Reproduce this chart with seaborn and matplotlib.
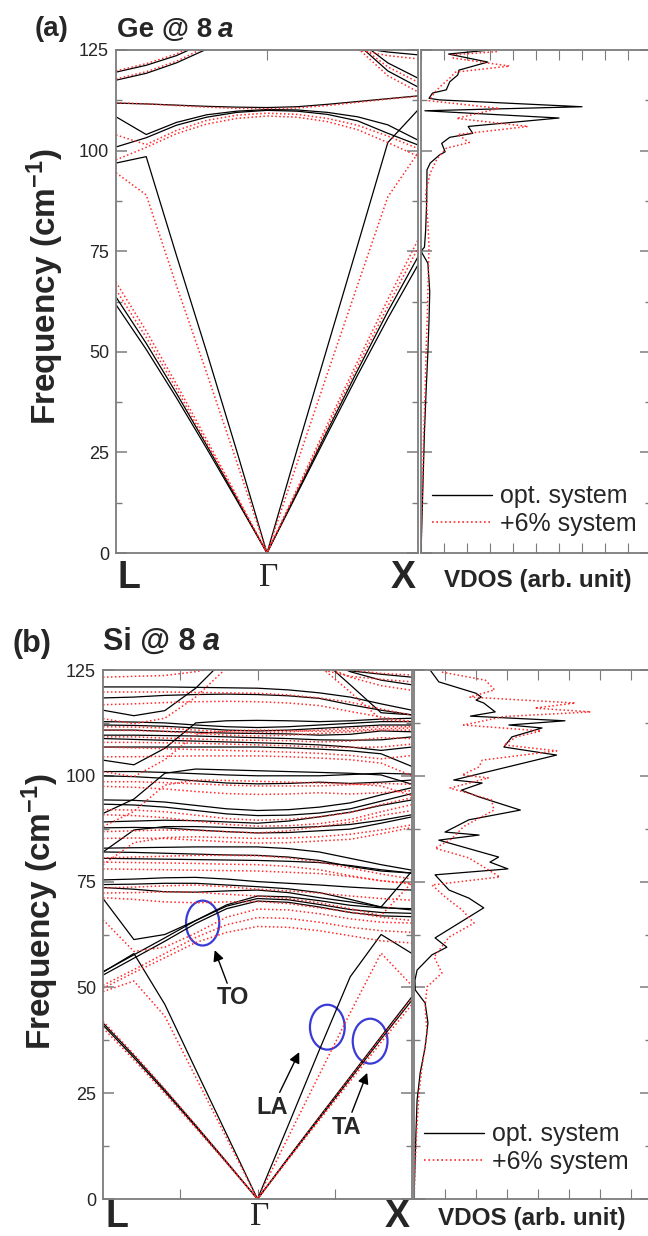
import matplotlib
matplotlib.use("Agg")
import numpy as np
import pandas as pd
import matplotlib.pyplot as plt
import seaborn as sns
from matplotlib.patches import Ellipse
from matplotlib.lines import Line2D
from matplotlib.ticker import MultipleLocator

# ---------------- data ----------------
K = [-1.0, -0.8, -0.6, -0.4, -0.2, 0.0, 0.2, 0.4, 0.6, 0.8, 1.0]   # L ... Gamma ... X
HIGH_LABELS = ["L", "\u0393", "X"]

# panel (a) Ge @ 8a, opt. system
a_TA1 = [61.7, 50.6, 38.6, 26.0, 13.1, 0.0, 14.8, 29.6, 44.2, 58.3, 71.6]
a_TA2 = [63.6, 52.1, 39.7, 26.8, 13.5, 0.0, 15.2, 30.4, 45.4, 60.0, 73.6]
a_LA = [96.9, 98.5, 74.0, 50.0, 25.3, 0.0, 25.8, 51.2, 76.5, 102.0, 110.1]
a_O1 = [100.9, 103.2, 106.3, 108.3, 109.5, 110.0, 109.8, 109.0, 107.4, 104.3, 101.4]
a_O2 = [108.4, 104.0, 107.0, 108.9, 109.8, 110.2, 110.1, 109.5, 108.4, 106.4, 102.6]
a_F1 = [111.8, 111.6, 111.3, 111.0, 110.8, 110.7, 110.9, 111.5, 112.2, 112.9, 113.6]
a_U1 = [119.5, 121.2, 123.6, 127.0, 131.0, 135.0, 135.0, 135.0, 135.0, 135.0, 135.0]
a_U2 = [117.5, 119.2, 121.8, 125.2, 129.0, 135.0, 135.0, 135.0, 135.0, 135.0, 135.0]
a_U3 = [135.0, 135.0, 135.0, 135.0, 135.0, 135.0, 135.0, 131.0, 125.6, 124.5, 123.8]
a_U4 = [135.0, 135.0, 135.0, 135.0, 135.0, 135.0, 135.0, 132.0, 127.5, 121.8, 118.0]
a_U5 = [135.0, 135.0, 135.0, 135.0, 135.0, 135.0, 135.0, 133.0, 126.5, 119.8, 115.8]

# panel (a) Ge @ 8a, +6% system
ar_TA1 = [65.4, 53.6, 40.8, 27.4, 13.8, 0.0, 15.6, 31.2, 46.4, 61.3, 75.8]
ar_TA2 = [67.3, 55.2, 42.0, 28.2, 14.2, 0.0, 16.0, 32.0, 47.6, 63.0, 77.8]
ar_LA = [94.5, 89.0, 66.5, 44.8, 22.6, 0.0, 22.4, 44.6, 66.6, 88.5, 99.4]
ar_O1 = [97.7, 100.8, 104.2, 106.6, 108.0, 108.6, 108.3, 107.2, 105.2, 102.0, 98.6]
ar_O2 = [103.9, 101.5, 105.0, 107.5, 108.8, 109.3, 109.0, 108.0, 106.3, 103.6, 100.5]
ar_F1 = [111.9, 111.6, 111.2, 110.8, 110.5, 110.4, 110.6, 111.2, 112.0, 112.8, 113.5]
ar_U1 = [119.8, 121.6, 124.0, 127.5, 131.0, 135.0, 135.0, 135.0, 135.0, 135.0, 135.0]
ar_U2 = [117.8, 119.6, 122.2, 125.8, 129.5, 135.0, 135.0, 135.0, 135.0, 135.0, 135.0]
ar_U3 = [135.0, 135.0, 135.0, 135.0, 135.0, 135.0, 135.0, 130.0, 125.0, 123.6, 122.8]
ar_U4 = [135.0, 135.0, 135.0, 135.0, 135.0, 135.0, 135.0, 131.0, 126.5, 120.8, 117.0]
ar_U5 = [135.0, 135.0, 135.0, 135.0, 135.0, 135.0, 135.0, 132.0, 125.5, 118.6, 114.6]

# panel (b) Si @ 8a, opt. system
b_TA1 = [41.1, 33.4, 25.4, 17.1, 8.6, 0.0, 9.6, 19.0, 28.4, 37.8, 47.0]
b_TA2 = [41.6, 33.9, 25.8, 17.4, 8.8, 0.0, 9.8, 19.4, 28.9, 38.4, 47.8]
b_LA = [53.6, 58.0, 46.0, 30.6, 15.3, 0.0, 17.5, 35.2, 52.5, 62.5, 58.0]
b_TO1 = [71.0, 61.3, 62.5, 65.8, 69.5, 71.6, 71.4, 70.5, 69.4, 68.8, 68.6]
b_TO2 = [53.7, 57.7, 61.7, 65.8, 69.2, 71.0, 70.7, 69.6, 68.4, 67.7, 67.5]
b_TO3 = [52.9, 56.9, 60.9, 65.1, 68.6, 70.4, 70.1, 69.0, 67.7, 66.9, 66.7]
b_N1 = [75.4, 75.6, 75.9, 76.0, 75.6, 75.0, 74.6, 74.2, 73.7, 73.3, 73.0]
b_N2 = [74.3, 74.4, 74.6, 74.6, 74.2, 73.8, 73.3, 72.4, 70.8, 69.0, 77.5]
b_N3 = [73.6, 73.2, 72.6, 72.5, 72.8, 73.0, 72.4, 71.2, 70.2, 69.0, 68.3]
b_M1 = [82.9, 83.0, 83.1, 83.2, 83.2, 83.2, 82.8, 82.0, 80.5, 79.0, 77.7]
b_M2 = [82.0, 81.9, 81.7, 81.5, 81.3, 81.2, 80.8, 80.0, 78.6, 77.5, 77.0]
b_M3 = [80.5, 80.4, 80.3, 80.2, 80.1, 80.0, 79.8, 79.5, 78.8, 77.8, 77.0]
b_L1 = [82.0, 87.2, 88.0, 88.0, 87.8, 87.6, 87.7, 88.0, 88.5, 89.5, 90.8]
b_K1 = [89.1, 89.3, 89.5, 89.4, 89.1, 88.8, 89.3, 90.3, 91.4, 93.0, 94.3]
b_K2 = [87.7, 87.8, 87.7, 87.2, 86.8, 86.5, 86.6, 87.0, 87.4, 88.8, 90.3]
b_J1 = [94.3, 94.2, 93.8, 93.0, 92.2, 91.8, 92.0, 92.6, 93.6, 95.5, 97.2]
b_J2 = [93.3, 93.1, 92.6, 91.8, 91.0, 90.6, 90.7, 91.2, 92.2, 94.0, 95.8]
b_I = [91.1, 94.5, 100.6, 101.6, 101.4, 101.2, 101.0, 100.8, 100.6, 100.2, 98.0]
b_H1 = [101.0, 101.0, 100.8, 100.5, 100.2, 100.0, 100.0, 100.0, 100.3, 100.6, 100.4]
b_H2 = [100.0, 99.8, 99.4, 98.8, 98.3, 98.1, 98.2, 98.5, 98.2, 98.5, 99.0]
b_G = [103.7, 102.6, 106.5, 112.5, 113.0, 113.1, 113.0, 112.8, 113.0, 113.4, 113.6]
b_E = [106.8, 106.8, 106.8, 106.8, 106.8, 106.8, 106.6, 106.3, 105.9, 105.2, 102.2]
b_D1 = [112.8, 112.7, 112.5, 112.0, 111.6, 111.4, 111.6, 112.0, 112.4, 112.8, 112.8]
b_D2 = [112.0, 111.9, 111.7, 111.3, 110.8, 110.6, 110.8, 111.2, 111.6, 112.0, 112.0]
b_D3 = [110.8, 110.8, 110.5, 110.3, 110.1, 110.0, 109.9, 109.6, 109.8, 110.6, 110.4]
b_D4 = [109.6, 109.6, 109.5, 109.4, 109.2, 109.0, 108.8, 108.5, 108.4, 108.5, 109.2]
b_D5 = [108.8, 108.6, 108.4, 108.2, 108.0, 107.8, 107.6, 107.3, 106.8, 106.0, 106.8]
b_C = [118.4, 118.6, 119.0, 119.2, 119.3, 119.2, 118.9, 118.3, 116.8, 115.5, 114.4]
b_B = [121.0, 121.0, 121.0, 120.9, 120.8, 120.7, 120.3, 119.6, 118.6, 117.0, 115.5]
b_A = [115.5, 114.2, 115.4, 120.7, 128.0, 132.0, 132.0, 128.0, 121.5, 114.9, 114.4]
b_Q1 = [135.0, 135.0, 135.0, 135.0, 135.0, 133.0, 130.0, 126.5, 124.8, 124.0, 123.3]
b_Q2 = [135.0, 135.0, 135.0, 135.0, 135.0, 135.0, 132.0, 128.0, 124.6, 122.6, 121.5]

# panel (b) Si @ 8a, +6% system
br_TA1 = [40.4, 32.9, 25.0, 16.8, 8.5, 0.0, 9.4, 18.6, 27.8, 37.0, 46.0]
br_TA2 = [42.0, 34.2, 26.0, 17.5, 8.8, 0.0, 9.7, 19.2, 28.7, 38.1, 47.4]
br_LA = [49.0, 51.5, 43.2, 28.8, 14.4, 0.0, 14.7, 29.4, 44.0, 58.1, 50.4]
br_TO1 = [66.0, 58.5, 59.5, 62.8, 66.6, 68.5, 68.3, 67.4, 66.2, 65.4, 65.2]
br_TO2 = [50.5, 54.2, 58.0, 61.8, 64.8, 66.5, 66.3, 65.4, 64.2, 63.4, 63.0]
br_TO3 = [49.8, 53.5, 57.0, 60.6, 63.0, 64.4, 64.2, 63.4, 62.2, 61.0, 60.5]
br_N1 = [73.5, 73.7, 74.0, 74.2, 73.8, 73.2, 72.8, 72.3, 71.6, 71.0, 70.6]
br_N2 = [72.3, 72.4, 72.6, 72.5, 72.0, 71.6, 71.0, 70.0, 68.6, 67.0, 74.8]
br_N3 = [71.2, 70.8, 70.2, 70.0, 70.2, 70.3, 69.8, 68.8, 67.8, 66.6, 65.8]
br_M1 = [80.6, 80.8, 81.0, 81.2, 81.2, 81.1, 80.6, 79.6, 78.2, 76.8, 75.6]
br_M2 = [79.6, 79.5, 79.4, 79.3, 79.1, 79.0, 78.6, 77.8, 76.4, 75.2, 74.6]
br_M3 = [78.0, 77.9, 77.8, 77.7, 77.6, 77.5, 77.2, 76.9, 76.2, 75.2, 74.4]
br_L1 = [79.0, 84.2, 85.4, 85.6, 85.4, 85.2, 85.3, 85.6, 86.2, 87.2, 88.4]
br_K1 = [86.8, 87.0, 87.2, 87.1, 86.8, 86.5, 87.0, 88.0, 89.0, 90.6, 91.8]
br_K2 = [85.2, 85.3, 85.2, 84.8, 84.4, 84.1, 84.2, 84.6, 85.0, 86.3, 87.8]
br_J1 = [92.0, 91.9, 91.5, 90.7, 89.9, 89.5, 89.7, 90.3, 91.3, 93.2, 94.8]
br_J2 = [90.8, 90.6, 90.1, 89.3, 88.5, 88.1, 88.2, 88.7, 89.7, 91.5, 93.2]
br_I = [88.0, 91.6, 97.8, 99.0, 98.9, 98.7, 98.5, 98.3, 98.1, 97.6, 95.3]
br_H1 = [98.6, 98.6, 98.4, 98.1, 97.8, 97.6, 97.6, 97.6, 97.9, 98.2, 98.0]
br_H2 = [97.5, 97.3, 96.9, 96.3, 95.8, 95.6, 95.7, 96.0, 95.7, 96.0, 96.5]
br_G = [101.0, 99.8, 103.8, 109.8, 110.6, 110.8, 110.7, 110.5, 110.7, 111.1, 111.3]
br_E = [104.5, 104.5, 104.6, 104.7, 104.7, 104.7, 104.5, 104.2, 103.8, 103.0, 100.0]
br_D1 = [111.6, 111.5, 111.3, 110.8, 110.4, 110.2, 110.4, 110.8, 111.2, 111.6, 111.6]
br_D2 = [110.8, 110.7, 110.5, 110.1, 109.6, 109.4, 109.6, 110.0, 110.4, 110.8, 110.8]
br_D3 = [109.2, 109.2, 108.9, 108.7, 108.5, 108.4, 108.3, 108.0, 108.2, 109.0, 108.8]
br_D4 = [107.9, 107.9, 107.8, 107.7, 107.5, 107.3, 107.1, 106.8, 106.7, 106.8, 107.5]
br_D5 = [106.8, 106.6, 106.4, 106.2, 106.0, 105.8, 105.6, 105.3, 104.8, 104.0, 104.8]
br_C = [116.8, 117.0, 117.3, 117.5, 117.6, 117.5, 117.2, 116.6, 115.2, 113.9, 112.8]
br_B = [119.8, 119.8, 119.8, 119.7, 119.6, 119.5, 119.1, 118.4, 117.4, 115.8, 114.3]
br_R = [123.3, 123.5, 123.7, 124.6, 126.0, 126.5, 126.3, 125.8, 125.0, 124.2, 123.8]
br_A = [113.5, 112.3, 113.6, 118.6, 125.5, 131.0, 131.0, 126.0, 119.8, 113.2, 112.8]
br_Q1 = [135.0, 135.0, 135.0, 135.0, 135.0, 132.0, 128.5, 125.2, 123.5, 122.8, 122.2]
br_Q2 = [135.0, 135.0, 135.0, 135.0, 135.0, 134.0, 130.5, 126.5, 123.3, 121.3, 120.2]

# VDOS (arb. unit) vs frequency
a_vdos_f = [125.0, 124.0, 122.0, 120.0, 118.8, 117.1, 115.1, 114.3, 113.0, 112.6, 110.9, 109.9, 108.1,
            106.0, 104.3, 103.3, 101.8, 99.7, 98.9, 96.9, 95.2, 87.7, 80.0, 76.0, 75.0, 72.0, 65.0,
            58.0, 50.0, 40.0, 30.0, 20.0, 10.0, 0.0]
a_vdos_v = [3.0, 1.2, 2.9, 1.65, 1.6, 1.25, 1.1, 0.5, 0.35, 0.8, 7.0, 0.17, 6.0,
            2.05, 2.25, 1.25, 0.9, 1.05, 0.8, 0.4, 0.26, 0.25, 0.2, 0.15, 0.0, 0.3, 0.38,
            0.35, 0.3, 0.22, 0.15, 0.1, 0.05, 0.0]
ar_vdos_f = [124.6, 123.8, 123.0, 121.0, 119.5, 118.0, 116.0, 114.5, 112.4, 110.5, 108.0, 106.0, 104.0,
             102.0, 100.6, 98.0, 94.4, 89.5, 82.0, 76.0, 70.0, 60.0, 50.0, 40.0, 30.0, 20.0, 10.0, 0.0]
ar_vdos_v = [3.3, 1.35, 1.4, 3.85, 1.5, 1.25, 0.85, 0.6, 0.35, 3.4, 1.55, 4.65, 1.6,
             2.1, 1.1, 0.7, 0.4, 0.2, 0.3, 0.35, 0.32, 0.28, 0.22, 0.18, 0.12, 0.08, 0.04, 0.0]
b_vdos_f = [125.0, 122.2, 119.5, 118.6, 117.9, 117.2, 115.1, 114.1, 113.0, 112.0, 111.3, 109.2, 106.8,
            104.9, 99.0, 98.3, 96.6, 95.0, 91.9, 89.6, 86.7, 86.0, 84.8, 80.8, 79.6, 78.0, 76.6,
            73.0, 71.1, 68.8, 61.7, 59.5, 57.7, 54.1, 51.7, 49.4, 46.3, 41.6, 35.9, 29.8, 23.4,
            15.0, 8.0, 0.0]
b_vdos_v = [0.52, 0.8, 2.0, 2.17, 2.0, 2.25, 2.62, 1.82, 4.87, 3.06, 4.13, 3.16, 2.9,
            4.6, 1.28, 2.2, 1.53, 2.1, 3.43, 1.77, 1.0, 2.1, 0.8, 2.73, 2.45, 3.03, 0.68,
            1.13, 1.77, 2.25, 0.68, 1.06, 0.58, 0.1, 0.03, 0.04, 0.36, 0.45, 0.36, 0.2, 0.1,
            0.06, 0.03, 0.0]
br_vdos_f = [124.5, 122.6, 120.3, 118.6, 117.2, 116.0, 115.1, 114.0, 112.0, 110.6, 109.2, 107.3, 105.9,
             103.7, 102.1, 100.2, 99.5, 97.1, 94.3, 91.9, 88.0, 85.0, 82.9, 80.6, 76.1, 74.2, 71.4,
             68.3, 65.2, 61.9, 57.2, 53.4, 50.1, 45.4, 39.2, 31.2, 25.0, 15.0, 8.0, 0.0]
br_vdos_v = [0.9, 2.3, 2.6, 1.8, 5.2, 3.9, 5.7, 2.9, 1.6, 4.1, 3.3, 2.9, 4.6,
             2.2, 2.1, 1.55, 2.4, 1.16, 2.5, 2.58, 1.6, 1.2, 0.68, 1.77, 2.77, 0.58, 1.0,
             1.55, 1.94, 1.13, 0.65, 0.9, 0.42, 0.36, 0.42, 0.26, 0.16, 0.08, 0.04, 0.0]

SERIES_LABELS = ["opt. system", "+6% system"]

a_black = dict(TA1=a_TA1, TA2=a_TA2, LA=a_LA, O1=a_O1, O2=a_O2, F1=a_F1,
               U1=a_U1, U2=a_U2, U3=a_U3, U4=a_U4, U5=a_U5)
a_red = dict(TA1=ar_TA1, TA2=ar_TA2, LA=ar_LA, O1=ar_O1, O2=ar_O2, F1=ar_F1,
             U1=ar_U1, U2=ar_U2, U3=ar_U3, U4=ar_U4, U5=ar_U5)
b_black = dict(TA1=b_TA1, TA2=b_TA2, LA=b_LA, TO1=b_TO1, TO2=b_TO2, TO3=b_TO3,
               N1=b_N1, N2=b_N2, N3=b_N3, M1=b_M1, M2=b_M2, M3=b_M3, L1=b_L1,
               K1=b_K1, K2=b_K2, J1=b_J1, J2=b_J2, I=b_I, H1=b_H1, H2=b_H2, G=b_G,
               E=b_E, D1=b_D1, D2=b_D2, D3=b_D3, D4=b_D4, D5=b_D5, C=b_C, B=b_B,
               A=b_A, Q1=b_Q1, Q2=b_Q2)
b_red = dict(TA1=br_TA1, TA2=br_TA2, LA=br_LA, TO1=br_TO1, TO2=br_TO2, TO3=br_TO3,
             N1=br_N1, N2=br_N2, N3=br_N3, M1=br_M1, M2=br_M2, M3=br_M3, L1=br_L1,
             K1=br_K1, K2=br_K2, J1=br_J1, J2=br_J2, I=br_I, H1=br_H1, H2=br_H2, G=br_G,
             E=br_E, D1=br_D1, D2=br_D2, D3=br_D3, D4=br_D4, D5=br_D5, C=br_C, B=br_B,
             R=br_R, A=br_A, Q1=br_Q1, Q2=br_Q2)

# ---------------- style ----------------
sns.set_style("ticks")
plt.rcParams["font.family"] = ["Liberation Sans", "DejaVu Sans"]
plt.rcParams["mathtext.fontset"] = "custom"
plt.rcParams["mathtext.rm"] = "Liberation Sans:bold"
plt.rcParams["mathtext.bf"] = "Liberation Sans:bold"
plt.rcParams["mathtext.default"] = "bf"

W, H = 648, 1236
SPINE = "#7c7c7c"
RED = "#ff2a2a"
DOT = (0, (1.0, 1.6))

fig = plt.figure(figsize=(W / 100, H / 100), dpi=100)


def fax(x0, x1, y0, y1):
    return fig.add_axes([x0 / W, 1 - y1 / H, (x1 - x0) / W, (y1 - y0) / H])


def long_df(bands):
    rows = []
    for name, vals in bands.items():
        for k, f in zip(K, vals):
            rows.append((name, k, f))
    return pd.DataFrame(rows, columns=["band", "k", "freq"])


def style_axis(ax, labels):
    for s in ax.spines.values():
        s.set_color(SPINE)
        s.set_linewidth(1.3)
    ax.set_ylim(0, 125)
    ax.yaxis.set_major_locator(MultipleLocator(25))
    ax.yaxis.set_minor_locator(MultipleLocator(12.5))
    ax.tick_params(axis="y", which="both", direction="in", left=True, right=True,
                   labelleft=labels, labelsize=13, color=SPINE, pad=5)
    ax.tick_params(axis="y", which="major", length=8, width=1.1)
    ax.tick_params(axis="y", which="minor", length=4, width=1.0)
    ax.set_xlabel("")
    ax.set_ylabel("")


def draw_disp(ax, black, red, xticks):
    sns.lineplot(data=long_df(black), x="k", y="freq", units="band", estimator=None,
                 sort=False, color="black", lw=0.9, ax=ax, legend=False)
    sns.lineplot(data=long_df(red), x="k", y="freq", units="band", estimator=None,
                 sort=False, color=RED, lw=1.1, linestyle=DOT, ax=ax, legend=False)
    ax.set_xlim(-1, 1)
    style_axis(ax, True)
    ax.set_xticks(xticks)
    ax.tick_params(axis="x", which="both", direction="in", top=True, bottom=True,
                   labelbottom=False, length=7, color=SPINE)


def draw_vdos(ax, fb, vb, fr, vr, xmax):
    sns.lineplot(x=vb, y=fb, sort=False, estimator=None, color="black", lw=0.9, ax=ax)
    sns.lineplot(x=vr, y=fr, sort=False, estimator=None, color=RED, lw=1.1,
                 linestyle=DOT, ax=ax)
    ax.set_xlim(0, xmax)
    style_axis(ax, False)
    ax.set_xticks(np.arange(0, int(xmax) + 1))
    ax.tick_params(axis="x", which="both", direction="in", top=True, bottom=True,
                   labelbottom=False, length=7, color=SPINE)


def ftext(x, y, s, **kw):
    fig.text(x / W, 1 - y / H, s, **kw)


# ---------------- panel (a) ----------------
ax_a = fax(116, 418, 50, 553)
draw_disp(ax_a, a_black, a_red, [0.0])
ax_a.tick_params(axis="x", bottom=False)
ax_av = fax(421, 651, 50, 553)
draw_vdos(ax_av, a_vdos_f, a_vdos_v, ar_vdos_f, ar_vdos_v, (651 - 421) / 23)

# ---------------- panel (b) ----------------
ax_b = fax(103, 412, 670, 1199)
draw_disp(ax_b, b_black, b_red, [-0.5, 0.0, 0.5])
ax_bv = fax(414, 651, 670, 1199)
draw_vdos(ax_bv, b_vdos_f, b_vdos_v, br_vdos_f, br_vdos_v, (651 - 414) / 31)

# ---------------- annotations in (b) ----------------
ell_kw = dict(fill=False, edgecolor="#3a3ad6", lw=1.6)
ax_b.add_patch(Ellipse((-0.355, 65.2), 0.215, 10.6, **ell_kw))
ax_b.add_patch(Ellipse((0.452, 40.6), 0.225, 10.6, **ell_kw))
ax_b.add_patch(Ellipse((0.729, 37.3), 0.225, 10.6, **ell_kw))
arr = dict(arrowstyle="-|>", color="black", lw=1.0, mutation_scale=16, shrinkA=0, shrinkB=0)
ax_b.annotate("TO", xy=(-0.277, 58.8), xytext=(-0.16, 47.5), ha="center", va="center",
              fontsize=17, fontweight="bold", arrowprops=arr)
ax_b.annotate("LA", xy=(0.27, 34.7), xytext=(0.097, 21.7), ha="center", va="center",
              fontsize=17, fontweight="bold", arrowprops=arr)
ax_b.annotate("TA", xy=(0.71, 29.8), xytext=(0.574, 17.0), ha="center", va="center",
              fontsize=17, fontweight="bold", arrowprops=arr)

# ---------------- legends ----------------
handles = [Line2D([], [], color="black", lw=1.0),
           Line2D([], [], color=RED, lw=1.2, linestyle=DOT)]
for ax, (lx, ly) in [(ax_av, (432, 510)), (ax_bv, (424, 1148))]:
    ax.legend(handles, SERIES_LABELS, loc="center left", bbox_to_anchor=(lx / W, 1 - ly / H),
              bbox_transform=fig.transFigure, frameon=False, fontsize=18, borderpad=0,
              borderaxespad=0, handlelength=2.4, handletextpad=0.3, labelspacing=0.12)

# ---------------- texts ----------------
for (y_sym, axl, axr, gx) in [(578, 116, 418, 267), (1217, 103, 412, 258)]:
    ftext(axl + 2, y_sym, "L", ha="left", va="center", fontsize=27, fontweight="bold")
    ftext(gx + 2, y_sym, "\u0393", ha="center", va="center", fontsize=24,
          family=["Liberation Serif", "DejaVu Serif"])
    ftext(axr - 2, y_sym, "X", ha="right", va="center", fontsize=27, fontweight="bold")

ftext(538, 580, "VDOS (arb. unit)", ha="center", va="center", fontsize=17.5, fontweight="bold")
ftext(532, 1219, "VDOS (arb. unit)", ha="center", va="center", fontsize=17.5, fontweight="bold")

ftext(45, 287, "Frequency (cm$^{-1}$)", ha="center", va="center", rotation=90,
      fontsize=24, fontweight="bold")
ftext(40, 912, "Frequency (cm$^{-1}$)", ha="center", va="center", rotation=90,
      fontsize=24, fontweight="bold")

ftext(35, 36, "(a)", ha="left", va="baseline", fontsize=20, fontweight="bold")
ftext(117, 37, "Ge @ 8", ha="left", va="baseline", fontsize=20, fontweight="bold")
ftext(218, 37, "a", ha="left", va="baseline", fontsize=20, fontweight="bold", style="italic")
ftext(13, 652, "(b)", ha="left", va="baseline", fontsize=22, fontweight="bold")
ftext(103, 650, "Si @ 8", ha="left", va="baseline", fontsize=22, fontweight="bold")
ftext(203, 650, "a", ha="left", va="baseline", fontsize=22, fontweight="bold", style="italic")

fig.savefig("out.png", dpi=100)
